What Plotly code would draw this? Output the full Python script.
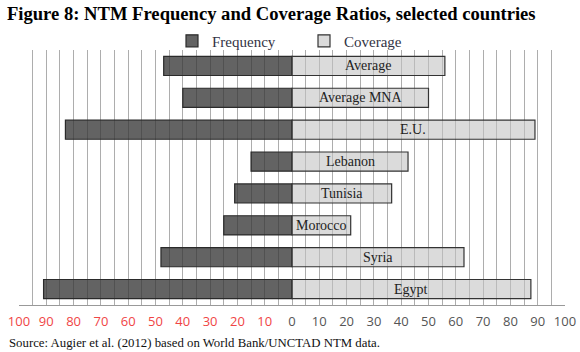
import plotly.graph_objects as go

categories = ["Average", "Average MNA", "E.U.", "Lebanon", "Tunisia", "Morocco", "Syria", "Egypt"]
frequency = [47, 40, 83, 15, 21, 25, 48, 91]
coverage = [56, 50, 89, 42.5, 36.5, 21.5, 63, 87.5]
tick_values = list(range(-100, 101, 5))

def tick_label(v):
    if v % 10 != 0:
        return ""
    if v < 0:
        return f"<span style='color:#f04545'>{abs(v)}</span>"
    return str(v)

tick_text = [tick_label(v) for v in tick_values]

fig = go.Figure()
fig.add_trace(go.Bar(
    y=categories, x=[-v for v in frequency], orientation="h", name="Frequency",
    marker=dict(color="rgba(55,55,55,0.78)", line=dict(color="#2a2a2a", width=1.2)),
    hoverinfo="skip",
))
fig.add_trace(go.Bar(
    y=categories, x=coverage, orientation="h", name="Coverage",
    marker=dict(color="rgba(195,195,195,0.6)", line=dict(color="#333333", width=1.2)),
    hoverinfo="skip",
))

for c, v in zip(categories, coverage):
    fig.add_annotation(x=v / 2, y=c, text=c, showarrow=False,
                       font=dict(family="Liberation Serif", size=14, color="#222222"))

fig.add_annotation(xref="paper", yref="paper", x=-0.022, y=-0.149, xanchor="left", yanchor="middle",
                   text="Source: Augier et al. (2012) based on World Bank/UNCTAD NTM data.",
                   showarrow=False, font=dict(family="Liberation Serif", size=12.8, color="#111111"))

fig.update_layout(
    width=580, height=352,
    margin=dict(l=19, r=15, t=50, b=47, autoexpand=False),
    paper_bgcolor="white", plot_bgcolor="white",
    barmode="overlay", bargap=0.4,
    title=dict(text="<b>Figure 8: NTM Frequency and Coverage Ratios, selected countries</b>",
               x=0.012, xanchor="left", y=0.962, yanchor="middle",
               font=dict(family="Liberation Serif", size=18.6, color="#000000")),
    legend=dict(orientation="h", x=(172 - 19) / 546, xanchor="left", y=1.035, yanchor="middle",
                entrywidth=87, entrywidthmode="pixels",
                font=dict(family="Liberation Serif", size=15, color="#333344"),
                bgcolor="rgba(0,0,0,0)", traceorder="normal"),
    xaxis=dict(range=[-100, 100], tickmode="array", tickvals=tick_values, ticktext=tick_text,
               showgrid=True, gridcolor="#adadad", gridwidth=1, zeroline=False, automargin=False,
               showline=True, linecolor="#999999", linewidth=1, ticks="", ticklabelstandoff=4,
               tickfont=dict(family="Open Sans", size=13, color="#555555"), fixedrange=True),
    yaxis=dict(categoryorder="array", categoryarray=categories, autorange="reversed",
               showticklabels=False, showgrid=False, zeroline=False, showline=False),
    showlegend=True,
)

fig.write_html("out.html")
